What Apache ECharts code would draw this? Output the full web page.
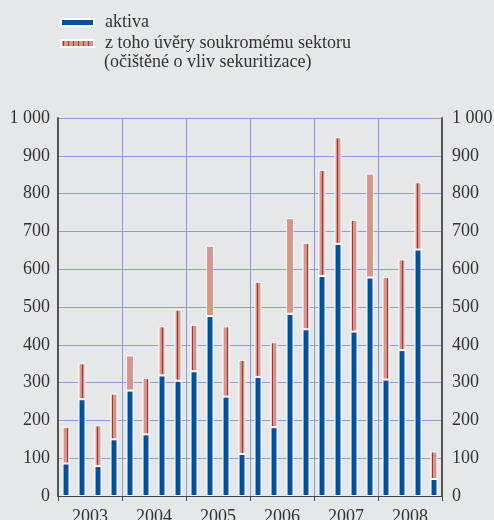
<!DOCTYPE html>
<html>
<head>
<meta charset="utf-8">
<script src="https://cdn.jsdelivr.net/npm/echarts@6/dist/echarts.min.js"></script>
<style>
html,body{margin:0;padding:0;background:#e6e7e9;}
#chart{width:494px;height:520px;}
</style>
</head>
<body>
<div id="chart"></div>
<script>
const years = ['2003','2004','2005','2006','2007','2008'];
const quarters = [
  '2003Q1','2003Q2','2003Q3','2003Q4',
  '2004Q1','2004Q2','2004Q3','2004Q4',
  '2005Q1','2005Q2','2005Q3','2005Q4',
  '2006Q1','2006Q2','2006Q3','2006Q4',
  '2007Q1','2007Q2','2007Q3','2007Q4',
  '2008Q1','2008Q2','2008Q3','2008Q4'
];
const aktiva = [86,256,79,150, 279,163,319,305, 330,476,263,111, 315,182,482,441, 582,667,435,578, 308,386,652,45];
const uvery  = [97,95,108,121, 93,149,130,188, 123,186,186,249, 252,225,253,229, 281,282,295,275, 271,240,178,73];
const yTicks = [0,100,200,300,400,500,600,700,800,900,1000];

const FONT = '"Liberation Serif", "DejaVu Serif", serif';
const TXT = '#333333';

const pc = document.createElement('canvas');
pc.width = 5; pc.height = 10;
const ctx = pc.getContext('2d');
ctx.fillStyle = '#d4968a';
ctx.fillRect(0,0,5,10);
ctx.fillStyle = '#a8342b';
ctx.fillRect(2,0,1,10);

const fmt = v => v >= 1000 ? String(v).replace(/\B(?=(\d{3})+(?!\d))/g,' ') : String(v);

const chart = echarts.init(document.getElementById('chart'));
chart.setOption({
  backgroundColor: '#e6e7e9',
  animation: false,
  textStyle: { fontFamily: FONT },
  legend: {
    orient: 'vertical',
    left: 55,
    top: 8,
    itemWidth: 33,
    itemHeight: 7,
    itemGap: 2,
    icon: 'rect',
    textStyle: { fontFamily: FONT, fontSize: 18, color: TXT, lineHeight: 19, padding: [0,0,0,6] },
    data: ['aktiva', 'z toho úvěry soukromému sektoru']
  },
  graphic: [{
    type: 'text',
    left: 104,
    top: 53,
    style: { text: '(očištěné o vliv sekuritizace)', font: '18px ' + FONT, fill: TXT }
  }],
  grid: { left: 58, right: 52, top: 118, bottom: 24, containLabel: false, outerBoundsMode: 'none' },
  xAxis: [{
    type: 'category',
    data: quarters,
    show: false,
    boundaryGap: true
  }, {
    type: 'category',
    data: years,
    position: 'bottom',
    boundaryGap: true,
    axisLine: { show: true, lineStyle: { color: '#444', width: 1 } },
    axisTick: { show: true, length: 5, lineStyle: { color: '#444' } },
    axisLabel: { fontFamily: FONT, fontSize: 18, color: TXT, margin: 12 },
    splitLine: { show: true, lineStyle: { color: '#8c9cda', width: 1 } }
  }],
  yAxis: [{
    type: 'value',
    position: 'left',
    min: 0, max: 1000, interval: 100,
    axisLine: { show: true, lineStyle: { color: '#555', width: 2 } },
    axisTick: { show: false },
    axisLabel: { fontFamily: FONT, fontSize: 18, color: TXT, margin: 8, formatter: fmt },
    splitLine: { show: true, lineStyle: { color: '#8c9cda', width: 1 } }
  }, {
    type: 'value',
    position: 'right',
    min: 0, max: 1000, interval: 100,
    axisLine: { show: true, lineStyle: { color: '#555', width: 2 } },
    axisTick: { show: false },
    axisLabel: { fontFamily: FONT, fontSize: 18, color: TXT, margin: 10, formatter: fmt },
    splitLine: { show: false }
  }],
  series: [{
    name: 'aktiva',
    type: 'bar',
    stack: 'a',
    xAxisIndex: 0,
    yAxisIndex: 0,
    barWidth: 7,
    data: aktiva,
    itemStyle: { color: '#00529c', borderColor: '#ffffff', borderWidth: 1 }
  }, {
    name: 'z toho úvěry soukromému sektoru',
    type: 'bar',
    stack: 'a',
    xAxisIndex: 0,
    yAxisIndex: 0,
    barWidth: 7,
    data: uvery,
    itemStyle: { color: { image: pc, repeat: 'repeat' }, borderColor: '#ffffff', borderWidth: 1 }
  }]
});
</script>
</body>
</html>
